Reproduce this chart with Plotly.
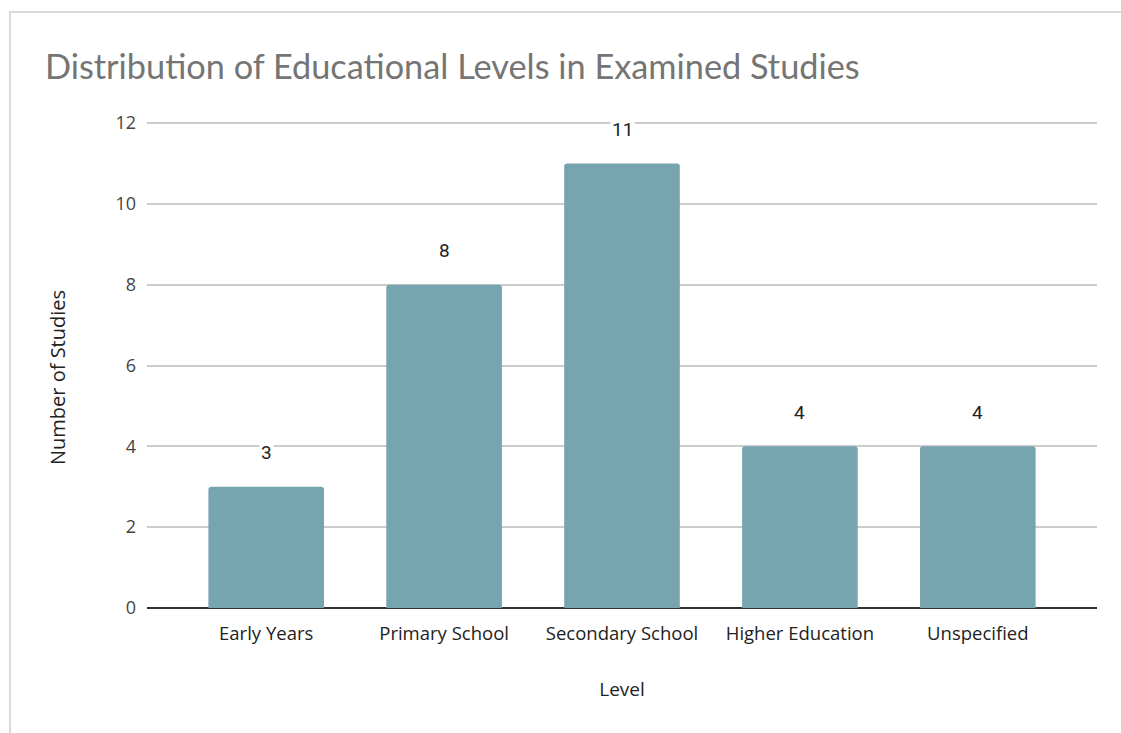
import plotly.graph_objects as go

categories = ["Early Years", "Primary School", "Secondary School", "Higher Education", "Unspecified"]
values = [3, 8, 11, 4, 4]
y_ticks = [0, 2, 4, 6, 8, 10, 12]

W, H = 1121, 733
L, R, T, B = 147, 24, 121, 125
pw, ph = W - L - R, H - T - B

fig = go.Figure()
fig.add_trace(go.Bar(
    x=list(range(len(categories))), y=values,
    marker=dict(color="#76a5af", cornerradius=3, line=dict(width=0)),
    width=0.65, hoverinfo="skip",
))

for i, v in enumerate(values):
    fig.add_annotation(x=i, y=v, text=str(v), showarrow=False, yshift=34,
                       font=dict(family="Roboto, Arial", size=19, color="#222222"),
                       bgcolor="white", borderpad=1)

# y-axis title placed as in the reference
fig.add_annotation(xref="paper", yref="paper", x=(57 - L) / pw, y=(H - B - 378) / ph,
                   text="Number of Studies", textangle=-90, showarrow=False,
                   xanchor="center", yanchor="middle",
                   font=dict(family="Open Sans, Lato", size=20, color="#222222"))

# outer card border (top and left visible)
fig.add_shape(type="rect", xref="paper", yref="paper",
              x0=(10 - L) / pw, x1=(W + 20 - L) / pw,
              y0=(H - B - (H + 20)) / ph, y1=(H - B - 12) / ph,
              line=dict(color="#dadada", width=2), fillcolor="rgba(0,0,0,0)", layer="below")

fig.update_layout(
    width=W, height=H,
    margin=dict(l=L, r=R, t=T, b=B),
    paper_bgcolor="white", plot_bgcolor="white",
    showlegend=False,
    title=dict(text="Distribution of Educational Levels in Examined Studies",
               x=45 / W, xanchor="left", y=1 - 67 / H, yanchor="middle",
               font=dict(family="Lato, Open Sans", size=34.3, color="#757575")),
    xaxis=dict(
        tickmode="array", tickvals=list(range(len(categories))), ticktext=categories,
        range=[-0.67, 4.67], showgrid=False, zeroline=False, showline=False,
        ticks="", ticklabelstandoff=12,
        tickfont=dict(family="Open Sans, Lato", size=18.5, color="#222222"),
        title=dict(text="Level", font=dict(family="Open Sans, Lato", size=19, color="#222222"), standoff=39),
    ),
    yaxis=dict(
        range=[0, 12.05], tickvals=y_ticks, showgrid=True, gridcolor="#cccccc", gridwidth=1.5,
        zeroline=True, zerolinecolor="#333333", zerolinewidth=2,
        ticks="", ticklabelstandoff=10,
        tickfont=dict(family="Open Sans, Lato", size=18, color="#444444"),
    ),
)

fig.write_html("out.html")
